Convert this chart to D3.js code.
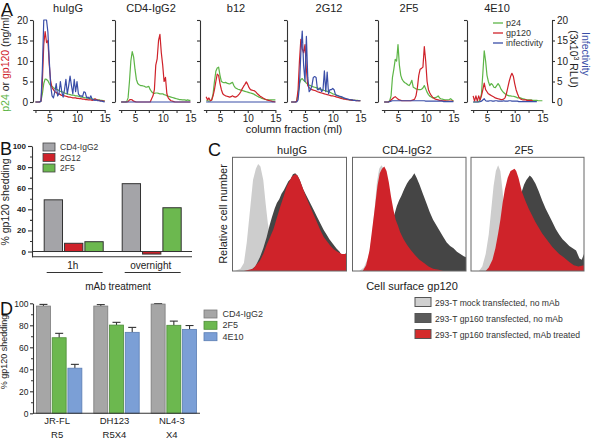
<!DOCTYPE html>
<html><head><meta charset="utf-8">
<script src="https://cdn.jsdelivr.net/npm/d3@7"></script>
<style>body{margin:0;background:#fff} svg{font-family:"Liberation Sans",Arial,sans-serif}</style>
</head><body><svg id="c" width="592" height="438"></svg>
<script>
// ---------- Panel A data ----------
const fractions = [2.5,2.75,3,3.25,3.5,3.75,4,4.25,4.5,4.75,5,5.25,5.5,5.75,6,6.25,6.5,6.75,7,7.25,7.5,7.75,8,8.25,8.5,8.75,9,9.25,9.5,9.75,10,10.25,10.5,10.75,11,11.25,11.5,11.75,12,12.25,12.5,12.75,13,13.25,13.5,13.75,14,14.25,14.5,14.75,15];
const aTitles = ["huIgG","CD4-IgG2","b12","2G12","2F5","4E10"];
const p24_huIgG = [0,0,0,0,0.3,2,4.5,5.6,5.5,5.2, 4.5,4,3.8,3.5,3.3,3.1,3,2.8,2.6,2.5, 2.4,2.2,2.1,2,1.9,1.8,1.7,1.7,1.6,1.5, 1.5,1.4,1.3,1.2,1.2,1.1,1,1,0.9,0.9, 0.8,0.7,0.7,0.6,0.6,0.5,0.5,0.4,0.4,0.3, 0.3];
const gp120_huIgG = [0,0,0,0,0.2,5,14,17.2,14.5,15, 9,5,3.5,3,2.5,2.3,2,2,1.8,1.6, 1.5,1.5,1.4,1.3,1.2,1.2,1.1,1,1,1, 0.9,0.9,0.8,0.8,0.7,0.7,0.6,0.6,0.5,0.5, 0.5,0.4,0.5,0.8,0.6,0.4,0.4,0.3,0.3,0.2, 0.2];
const inf_huIgG = [0,0,0,0,0.2,8,20,20,20,17, 10,4,1.5,1,2.5,4.5,1.5,2,5,2.5, 1.2,3,5.5,2,4,6.3,4,2,5.5,2.5, 5,2,1.5,1.5,1.3,2.5,2.3,1,1.2,0.8, 1.5,0.6,0.5,0.4,0.5,0.3,0.3,0.2,0.2,0.1, 0];
const p24_CD4 = [0,0,0,0,0.1,1,5,10,12.3,11, 8,5.5,4.5,4.2,4,4,3.9,3.8,3.6,3.7, 3.8,3,2.5,2.2,2.1,2.2,2.2,2.1,2,2, 2,1.8,1.7,1.5,1.4,1.3,1.2,1.1,1,0.9, 0.8,0.7,0.6,0.6,0.5,0.5,0.5,0.4,0.5,0.4, 0.4];
const gp120_CD4 = [0,0,0,0,0,0.1,0.5,0.6,0.5,0.2, 0.1,0,0,0,0,0,0,0,0,0, 0,0,0.8,1.5,3,9,10.5,15,16.5,12, 9,5,6,2,1,0.6,0.3,0.2,0.1,0, 0,0,0,0,0,0,0,0,0,0, 0];
const inf_CD4 = [0,0,0,0,0,0,0,0,0,0, 0,0,0,0,0,0,0,0,0,0, 0,0,0,0,0,0,0,0,0,0, 0,0,0,0,0,0,0,0,0,0, 0,0,0,0,0,0,0,0,0,0, 0];
const p24_b12 = [0.3,0.3,0.2,0.3,0.5,2,5,7.5,8.3,8.5, 6.5,5,4.8,4.7,4.8,4.6,4.5,4.4,4.6,4.8, 4,3.5,3.3,3.1,3,2.9,2.8,2.7,2.6,2.5, 2.4,2.3,2.2,2.1,2,1.8,1.6,1.4,1.2,1.1, 0.9,0.8,0.7,0.6,0.5,0.5,0.5,0.5,0.5,0.5, 0.5];
const gp120_b12 = [1.3,0.5,1,0.3,0.5,1.5,3,5,6.8,6.5, 4.5,3,2,1.7,1.5,1.4,1.3,1.2,1.3,1.5, 1.3,1.2,1.3,1.6,2,2.5,3.2,3.8,4.3,4.9, 4.3,3.5,3,2.9,2.8,2.7,2.4,2,1.7,1.4, 1.2,1,0.8,0.6,0.5,0.4,0.3,0.2,0.1,0.1, 0];
const inf_b12 = [0,0,0,0,0,0,0,0,0,0, 0,0,0,0,0,0,0,0,0,0, 0,0,0,0,0,0,0,0,0,0, 0,0,0,0,0,0,0,0,0,0, 0,0,0,0,0,0,0,0,0,0, 0];
const p24_2G12 = [0,0,0,0,0.2,2,4.5,5.5,5.7,5.3, 5,4.6,4.3,4.1,4,3.8,3.7,3.6,3.5,3.4, 3.3,3.2,3,2.9,2.8,2.7,2.6,2.5,2.4,2.2, 2,1.9,1.8,1.6,1.5,1.3,1.2,1,0.9,0.8, 0.7,0.6,0.5,0.5,0.5,0.4,0.4,0.4,0.4,0.3, 0.3];
const gp120_2G12 = [0,0,0,0,0.2,3,10,15.3,13,12, 14,8,4,3.5,3.2,3,2.9,2.8,2.7,2.5, 2.4,2.3,2.2,2.1,2,1.9,1.8,1.7,1.6,1.5, 1.5,1.4,1.3,1.2,1.1,1,0.9,0.8,0.7,0.7, 0.6,0.6,0.5,0.5,0.4,0.4,0.4,0.3,0.3,0.3, 0.3];
const inf_2G12 = [0,0,0,0,0,0.5,4,12,17.3,9, 5,16,6,2.5,3,4,6,6.2,6,3, 3,3.5,2.5,3,7.6,2.5,7.3,2,3,3, 3.3,3,1.8,1.6,1.5,1.4,1.3,1.2,1,0.9, 0.8,0.7,0.6,0.5,0.5,0.4,0.4,0.3,0.3,0.3, 0.3];
const p24_2F5 = [0,0,0,0,0.3,1.5,6,8,10.4,10, 14,9,6.5,5.5,5,4.7,4.5,4.2,4,4.5, 5.3,3.6,3.4,3.2,3.1,3,3,3.1,3.4,4, 3.2,2.4,1.8,1.4,1.2,1,1,1.1,1.2,1.5, 1,0.8,0.7,0.6,0.5,0.5,0.5,0.6,0.8,0.5, 0.3];
const gp120_2F5 = [0,0,0,0,0.2,0.5,0.8,1.1,1.3,1, 0.7,0.5,0.4,0.3,0.3,0.3,0.3,0.3,0.3,0.3, 0.4,0.5,0.7,1.5,3.5,6.5,8,8.2,8.5,13.5, 10,5,3,2.2,1.6,1.2,0.9,0.7,0.6,0.5, 0.4,0.4,0.3,0.3,0.3,0.2,0.2,0.2,0.2,0.2, 0.2];
const inf_2F5 = [0,0,0,0,0.1,0.2,0.3,0.3,0.3,0.3, 0.3,0.3,0.3,0.3,0.3,0.3,0.3,0.3,0.3,0.3, 0.3,0.3,0.3,0.3,0.3,0.3,0.3,0.3,0.3,0.3, 0.2,0.2,0.2,0.2,0.2,0.2,0.2,0.2,0.2,0.2, 0.2,0.2,0.2,0.1,0.1,0.1,0.1,0.1,0.1,0.1, 0.1];
const p24_4E10 = [0,0,0,0,0.1,0.5,2,7,12.5,10, 6.5,5,4,4.5,4.2,3.6,3.5,4,4.5,4, 3.2,2.7,2.3,2,1.8,1.6,1.5,1.5,1.4,1.4, 1.3,1.2,1,1,1,0.9,0.8,0.7,0.6,0.5, 0.5,0.5,0.5,0.4,0.4,0.4,0.4,0.3,0.3,0.3, 0.3];
const gp120_4E10 = [1.5,0.2,1.5,0.2,1.5,0.5,1.5,3,4.6,3, 2.5,2,1.8,1.6,1.4,1.2,1,0.9,0.8,0.7, 0.6,0.6,0.7,1,2,3.5,5,6.2,7,6.3, 4.5,3,2,1.2,0.8,0.6,0.5,0.5,0.5,0.4, 0.4,0.4,0.4,0.3,null,null,null,null,null,null, null];
const inf_4E10 = [0,0,0,0,0,0.1,0.2,0.5,0.8,0.3, 0.2,0.2,0.3,0.3,0.2,0.2,0.3,0.3,0.2,0.2, 0.2,0.2,0.3,0.2,0.2,0.2,0.3,0.3,0.2,0.2, 0.2,0.2,0.2,0.1,0.1,0.1,0.1,0.1,0.1,0.1, 0.1,0.1,0.1,0.1,0.1,0.1,0.1,null,null,null, null];
const aTicksY = [0,5,10,15,20];
const aTicksX = [2.5,5,7.5,10,12.5,15];
const aLegend = ["p24","gp120","infectivity"];

// ---------- Panel B data ----------
const bGroups = ["1h","overnight"];
const bSeries = ["CD4-IgG2","2G12","2F5"];
const bValues = { "CD4-IgG2":[49,64.3], "2G12":[7.8,-2.4], "2F5":[9.3,41.5] };
const bTicks = [0,20,40,60,80,100];
const bMinor = [10,30,50,70,90];

// ---------- Panel C data (normalized channel, relative count) ----------
const cTitles = ["huIgG","CD4-IgG2","2F5"];
const cLegend = ["293-T mock transfected, no mAb","293-T gp160 transfected, no mAb","293-T gp160 transfected, mAb treated"];
const mock_huIgG = [[0.02,0],[0.07,0.02],[0.10,0.07],[0.125,0.25],[0.155,0.55],[0.18,0.8],[0.205,0.9],[0.225,0.94],[0.245,0.92],[0.27,0.8],[0.29,0.6],[0.31,0.42],[0.33,0.3],[0.36,0.12],[0.40,0.03],[0.45,0]];
const gp160_huIgG = [[0.15,0],[0.2,0.04],[0.24,0.12],[0.27,0.2],[0.30,0.3],[0.325,0.4],[0.345,0.47],[0.37,0.55],[0.39,0.6],[0.41,0.63],[0.43,0.68],[0.45,0.71],[0.47,0.75],[0.49,0.79],[0.51,0.81],[0.53,0.85],[0.55,0.86],[0.57,0.84],[0.59,0.8],[0.62,0.72],[0.65,0.66],[0.68,0.6],[0.71,0.54],[0.74,0.48],[0.77,0.42],[0.8,0.36],[0.825,0.32],[0.85,0.28],[0.88,0.24],[0.91,0.2],[0.94,0.17],[0.965,0.12],[0.985,0.14],[1.0,0.17]];
const treated_huIgG = [[0.1,0],[0.18,0.02],[0.24,0.09],[0.27,0.15],[0.30,0.23],[0.33,0.3],[0.36,0.37],[0.39,0.47],[0.42,0.57],[0.45,0.66],[0.475,0.74],[0.5,0.79],[0.52,0.83],[0.55,0.85],[0.57,0.84],[0.59,0.8],[0.62,0.72],[0.65,0.64],[0.68,0.57],[0.71,0.5],[0.74,0.43],[0.77,0.36],[0.80,0.3],[0.83,0.26],[0.86,0.22],[0.89,0.19],[0.92,0.17],[0.96,0.15],[1.0,0.15]];
const mock_CD4 = [[0.06,0],[0.1,0.03],[0.14,0.12],[0.17,0.3],[0.195,0.55],[0.215,0.78],[0.235,0.9],[0.255,0.93],[0.275,0.9],[0.30,0.7],[0.32,0.45],[0.35,0.2],[0.38,0.06],[0.42,0]];
const gp160_CD4 = [[0.2,0],[0.24,0.05],[0.28,0.15],[0.31,0.3],[0.34,0.42],[0.37,0.5],[0.39,0.57],[0.41,0.62],[0.43,0.66],[0.455,0.72],[0.48,0.77],[0.50,0.8],[0.52,0.82],[0.545,0.86],[0.565,0.82],[0.59,0.76],[0.62,0.68],[0.65,0.6],[0.68,0.52],[0.71,0.45],[0.74,0.4],[0.77,0.35],[0.8,0.3],[0.83,0.25],[0.86,0.22],[0.89,0.2],[0.92,0.17],[0.95,0.15],[0.98,0.13],[1.0,0.12]];
const treated_CD4 = [[0.09,0],[0.12,0.05],[0.15,0.18],[0.175,0.38],[0.2,0.58],[0.22,0.75],[0.24,0.86],[0.26,0.9],[0.28,0.92],[0.30,0.88],[0.32,0.78],[0.34,0.65],[0.36,0.54],[0.38,0.45],[0.40,0.4],[0.42,0.34],[0.45,0.28],[0.48,0.23],[0.51,0.19],[0.55,0.14],[0.59,0.1],[0.63,0.07],[0.67,0.04],[0.71,0.02],[0.76,0.01],[0.8,0]];
const mock_2F5 = [[0.07,0],[0.1,0.04],[0.13,0.15],[0.157,0.32],[0.18,0.55],[0.2,0.75],[0.22,0.88],[0.24,0.93],[0.26,0.88],[0.28,0.7],[0.3,0.45],[0.33,0.18],[0.36,0.05],[0.4,0]];
const gp160_2F5 = [[0.27,0],[0.31,0.1],[0.35,0.3],[0.38,0.45],[0.41,0.58],[0.44,0.67],[0.47,0.76],[0.49,0.8],[0.52,0.84],[0.54,0.82],[0.57,0.77],[0.6,0.7],[0.63,0.62],[0.66,0.55],[0.69,0.49],[0.72,0.43],[0.75,0.37],[0.78,0.32],[0.81,0.28],[0.84,0.25],[0.87,0.22],[0.9,0.2],[0.93,0.18],[0.96,0.11],[0.98,0.1],[1.0,0.15]];
const treated_2F5 = [[0.13,0],[0.157,0.03],[0.19,0.1],[0.216,0.2],[0.24,0.33],[0.26,0.45],[0.28,0.6],[0.30,0.72],[0.325,0.82],[0.35,0.88],[0.37,0.89],[0.385,0.9],[0.40,0.88],[0.42,0.82],[0.45,0.7],[0.48,0.62],[0.51,0.55],[0.54,0.49],[0.57,0.43],[0.6,0.38],[0.63,0.33],[0.66,0.29],[0.69,0.25],[0.72,0.21],[0.75,0.18],[0.78,0.15],[0.82,0.12],[0.87,0.08],[0.91,0.05],[0.95,0.04],[1.0,0.05]];

// ---------- Panel D data ----------
const dGroups = ["JR-FL","DH123","NL4-3"];
const dTropism = ["R5","R5X4","X4"];
const dSeries = ["CD4-IgG2","2F5","4E10"];
const dValues = { "CD4-IgG2":[97.5,97.5,99.3], "2F5":[68.7,80.2,80], "4E10":[41,73.6,76.3] };
const dErrors = { "CD4-IgG2":[1.5,1.3,0.4], "2F5":[4,2.5,3.8], "4E10":[3.5,4.5,3.5] };
const dTicks = [0,20,40,60,80,100];
const dMinor = [10,30,50,70,90];

// ---------- drawing ----------
const svg = d3.select("#c");
const FONT = '"Liberation Sans",Arial,sans-serif';
const GREEN = "#5db547", RED = "#cf222a", BLUE = "#3a4ea8";
const INK = "#333";

function styleAxis(g, fs, bold) {
  g.attr("font-family", FONT).attr("font-size", fs);
  g.select(".domain").attr("stroke", INK).attr("stroke-width", 1.1);
  g.selectAll(".tick line").attr("stroke", INK).attr("stroke-width", 1.1);
  g.selectAll(".tick text").attr("fill", "#222").attr("font-weight", bold ? "bold" : "normal");
  return g;
}
function label(x, y, txt, fs, opts = {}) {
  const t = svg.append("text").attr("x", x).attr("y", y).attr("font-size", fs)
    .attr("font-family", FONT).attr("fill", opts.fill || "#222")
    .attr("text-anchor", opts.anchor || "middle").text(txt);
  if (opts.rotate) t.attr("transform", `rotate(${opts.rotate},${x},${y})`);
  if (opts.weight) t.attr("font-weight", opts.weight);
  return t;
}

// Panel letters
[["A",1,16],["B",0,155],["C",208,156],["D",0,315]].forEach(([t,x,y]) =>
  label(x, y, t, 18, {anchor:"start", fill:"#111"}));

// ===== Panel A =====
const aSeries = [
  [p24_huIgG, gp120_huIgG, inf_huIgG],
  [p24_CD4, gp120_CD4, inf_CD4],
  [p24_b12, gp120_b12, inf_b12],
  [p24_2G12, gp120_2G12, inf_2G12],
  [p24_2F5, gp120_2F5, inf_2F5],
  [p24_4E10, gp120_4E10, inf_4E10]
];
const aX5 = [49.3, 135, 220, 305, 398, 487];
const aYaxisX = [33, 115, 200, 287, 378, 467];
const aTitleX = [68, 151, 236, 329, 409, 497];
const aColors = [GREEN, RED, BLUE];
const PXU = 5.54;
const yA = d3.scaleLinear().domain([0, 20]).range([102, 20]);

aTitles.forEach((title, i) => {
  const xA = d3.scaleLinear().domain([2, 15]).range([aX5[i] - 3 * PXU, aX5[i] + 10 * PXU]);
  const ya = d3.axisLeft(yA).tickValues(aTicksY).tickSize(3).tickSizeOuter(0).tickPadding(2);
  if (i > 0) ya.tickFormat("");
  styleAxis(svg.append("g").attr("transform", `translate(${aYaxisX[i]},0)`).call(ya), 10);
  const xa = d3.axisBottom(xA).tickValues(aTicksX).tickSize(3).tickSizeOuter(0).tickPadding(2)
    .tickFormat(d => d % 5 === 0 ? d : "");
  styleAxis(svg.append("g").attr("transform", "translate(0,110)").call(xa), 10);
  label(aTitleX[i], 12, title, 11);
  const line = d3.line().defined(d => d != null)
    .x((d, j) => xA(fractions[j])).y(d => yA(d));
  aSeries[i].forEach((s, k) => {
    svg.append("path").datum(s).attr("d", line).attr("fill", "none")
      .attr("stroke", aColors[k]).attr("stroke-width", 1.2).attr("stroke-linejoin", "round");
  });
});
// right axis (infectivity)
styleAxis(svg.append("g").attr("transform", "translate(552,0)")
  .call(d3.axisRight(yA).tickValues(aTicksY).tickSize(3).tickSizeOuter(0).tickPadding(2)), 10);
label(294, 133, "column fraction (ml)", 11);
// left y label
{
  const t = label(9, 63, "", 10.5, {rotate:-90});
  t.append("tspan").attr("fill", GREEN).text("p24");
  t.append("tspan").attr("fill", "#222").text(" or ");
  t.append("tspan").attr("fill", RED).text("gp120");
  t.append("tspan").attr("fill", "#222").text(" (ng/ml)");
}
// right labels
label(582, 54, "Infectivity", 10.5, {rotate:90, fill:BLUE});
{
  const t = label(570, 59, "", 10.5, {rotate:90});
  t.append("tspan").text("(3x10");
  t.append("tspan").attr("font-size", 7).attr("dy", -4).text("3");
  t.append("tspan").attr("dy", 4).text(" RLU)");
}
// legend A
aLegend.forEach((name, k) => {
  const y = 23 + k * 10;
  svg.append("line").attr("x1", 493).attr("x2", 503).attr("y1", y).attr("y2", y)
    .attr("stroke", aColors[k]).attr("stroke-width", 1.3);
  label(506, y + 3, name, 9, {anchor:"start", fill:"#333"});
});

// ===== Panel B =====
const yB = d3.scaleLinear().domain([-5, 100]).range([256.8, 146]);
const xB = d3.scaleBand().domain(bGroups).range([34.7, 190.7]);
const xBi = d3.scaleBand().domain(bSeries).range([0, 59]).paddingInner(0.1);
const bColors = {"CD4-IgG2":"#a4a4a8","2G12":"#cf222a","2F5":"#6cb84f"};
styleAxis(svg.append("g").attr("transform", "translate(32,0)")
  .call(d3.axisLeft(yB).tickValues(bTicks).tickSize(4).tickSizeOuter(0).tickPadding(2)), 8, true);
styleAxis(svg.append("g").attr("transform", "translate(32,0)")
  .call(d3.axisLeft(yB).tickValues(bMinor).tickSize(2).tickSizeOuter(0).tickFormat("")), 8)
  .select(".domain").remove();
bSeries.forEach(s => {
  bGroups.forEach((g, gi) => {
    const v = bValues[s][gi];
    const x0 = xB(g) + xB.bandwidth() / 2 - 29.5 + xBi(s);
    svg.append("rect").attr("x", x0).attr("width", xBi.bandwidth())
      .attr("y", Math.min(yB(v), yB(0))).attr("height", Math.abs(yB(v) - yB(0)))
      .attr("fill", bColors[s]).attr("stroke", "#333").attr("stroke-width", 1);
  });
});
svg.append("line").attr("x1", 32).attr("x2", 192).attr("y1", yB(0)).attr("y2", yB(0)).attr("stroke", INK).attr("stroke-width", 1.1);
svg.append("line").attr("x1", 32).attr("x2", 192).attr("y1", yB(-5)).attr("y2", yB(-5)).attr("stroke", INK).attr("stroke-width", 1.1);
bGroups.forEach(g => {
  const c = xB(g) + xB.bandwidth() / 2;
  label(c - 1, 269, g, 10);
  svg.append("line").attr("x1", c - 27).attr("x2", c + 29).attr("y1", 272.5).attr("y2", 272.5)
    .attr("stroke", INK).attr("stroke-width", 1);
});
label(118, 290, "mAb treatment", 10);
label(9, 202, "% gp120 shedding", 10.5, {rotate:-90});
bSeries.forEach((s, k) => {
  const y = [147, 157.5, 168][k];
  svg.append("rect").attr("x", 43).attr("y", y - 4).attr("width", 12).attr("height", 8)
    .attr("fill", bColors[s]).attr("stroke", "#444").attr("stroke-width", 0.8);
  label(60, y + 3, s, 8.5, {anchor:"start", fill:"#333"});
});

// ===== Panel C =====
const cSets = [[mock_huIgG, gp160_huIgG, treated_huIgG],[mock_CD4, gp160_CD4, treated_CD4],[mock_2F5, gp160_2F5, treated_2F5]];
const cLeft = [232.5, 352.5, 471], cRight = [346.5, 466, 584];
const cTop = 157.3, cBottom = 271;
const cTitleX = [292, 407, 524];
const cFills = ["#cdcdcd", "#454545", "#cf232a"];
cTitles.forEach((t, i) => {
  const x = d3.scaleLinear().domain([0, 1]).range([cLeft[i], cRight[i]]);
  const y = d3.scaleLinear().domain([0, 1]).range([cBottom, cTop]);
  const area = d3.area().x(d => x(d[0])).y0(cBottom).y1(d => y(d[1]));
  cSets[i].forEach((s, k) => {
    svg.append("path").datum(s).attr("d", area).attr("fill", cFills[k]);
  });
  svg.append("rect").attr("x", cLeft[i]).attr("y", cTop).attr("width", cRight[i] - cLeft[i])
    .attr("height", cBottom - cTop).attr("fill", "none").attr("stroke", "#666").attr("stroke-width", 1);
  label(cTitleX[i], 154, t, 11);
});
label(227, 214, "Relative cell number", 11, {rotate:-90});
label(412, 290, "Cell surface gp120", 11);
cLegend.forEach((name, k) => {
  const y = 302 + k * 16;
  svg.append("rect").attr("x", 415).attr("y", y - 4.5).attr("width", 16).attr("height", 9)
    .attr("fill", ["#d0d0d0", "#5a5a5a", "#d42b2b"][k]).attr("stroke", "#555").attr("stroke-width", 1);
  label(435, y + 3.5, name, 8.6, {anchor:"start", fill:"#333"});
});

// ===== Panel D =====
const yD = d3.scaleLinear().domain([0, 100]).range([413.3, 303.3]);
const xD = d3.scaleBand().domain(dGroups).range([30.5, 202.5]);
const xDi = d3.scaleBand().domain(dSeries).range([0, 45.4]).paddingInner(0.11);
const dFill = {"CD4-IgG2":"#a6a6a6","2F5":"#6cb84f","4E10":"#7b9fd6"};
const dStroke = {"CD4-IgG2":"#7a7a7a","2F5":"#4d8c38","4E10":"#5a7db3"};
styleAxis(svg.append("g").attr("transform", "translate(33,0)")
  .call(d3.axisLeft(yD).tickValues(dTicks).tickSize(3).tickSizeOuter(0).tickPadding(1.5)), 8.5);
styleAxis(svg.append("g").attr("transform", "translate(33,0)")
  .call(d3.axisLeft(yD).tickValues(dMinor).tickSize(2).tickSizeOuter(0).tickFormat("")), 8.5)
  .select(".domain").remove();
dSeries.forEach(s => {
  dGroups.forEach((g, gi) => {
    const v = dValues[s][gi], e = dErrors[s][gi];
    const x0 = xD(g) + xD.bandwidth() / 2 - 22.7 + xDi(s);
    const cx = x0 + xDi.bandwidth() / 2;
    svg.append("line").attr("x1", cx).attr("x2", cx).attr("y1", yD(v)).attr("y2", yD(v + e))
      .attr("stroke", INK).attr("stroke-width", 1.1);
    svg.append("line").attr("x1", cx - 4).attr("x2", cx + 4).attr("y1", yD(v + e)).attr("y2", yD(v + e))
      .attr("stroke", INK).attr("stroke-width", 1.1);
    svg.append("rect").attr("x", x0).attr("width", xDi.bandwidth()).attr("y", yD(v))
      .attr("height", yD(0) - yD(v)).attr("fill", dFill[s]).attr("stroke", dStroke[s]).attr("stroke-width", 0.8);
  });
});
svg.append("line").attr("x1", 33).attr("x2", 200).attr("y1", yD(0)).attr("y2", yD(0)).attr("stroke", INK).attr("stroke-width", 1.1);
dGroups.forEach((g, gi) => {
  const c = xD(g) + xD.bandwidth() / 2 - 2;
  label(c, 424, g, 9.5);
  label(c, 437.5, dTropism[gi], 9.5);
});
label(7, 352, "% gp120 shedding", 9, {rotate:-90});
dSeries.forEach((s, k) => {
  const y = [314, 325.3, 336.7][k];
  svg.append("rect").attr("x", 204).attr("y", y - 4).attr("width", 13).attr("height", 8)
    .attr("fill", dFill[s]).attr("stroke", dStroke[s]).attr("stroke-width", 0.8);
  label(222.5, y + 3, s, 9, {anchor:"start", fill:"#333"});
});
</script></body></html>
